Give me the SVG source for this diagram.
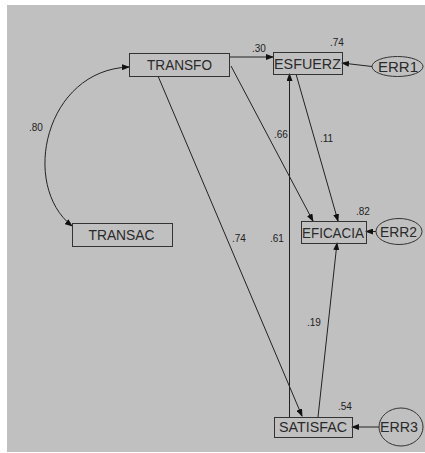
<svg xmlns="http://www.w3.org/2000/svg" width="425" height="453" viewBox="0 0 425 453">
<defs>
<marker id="ah" markerUnits="userSpaceOnUse" markerWidth="8" markerHeight="6" refX="7" refY="3" orient="auto-start-reverse" viewBox="0 0 8 6">
<path d="M0,0 L8,3 L0,6 z" fill="#111"/>
</marker>
<style>
.box{fill:none;stroke:#333;stroke-width:1}
.lbl{font-family:"Liberation Sans",Arial,sans-serif;font-size:14px;fill:#2a2a2a;text-anchor:middle}
.num{font-family:"Liberation Sans",Arial,sans-serif;font-size:10px;fill:#222}
.ln{fill:none;stroke:#222;stroke-width:1;marker-end:url(#ah)}
</style>
</defs>
<rect x="0" y="0" width="425" height="453" fill="#fff"/>
<rect x="7" y="5" width="418" height="447" fill="#c0c0c0"/>
<g id="connectors">
<path class="ln" d="M229,57 L273,57"/>
<path class="ln" d="M372,66.5 L342,63"/>
<path class="ln" d="M129,67 C45,70 20,185 72,226" marker-start="url(#ah)"/>
<path class="ln" d="M158,76 L302,416"/>
<path class="ln" d="M231,66 L313,221"/>
<path class="ln" d="M296,74 L338,221"/>
<path class="ln" d="M289.5,417 L289.5,74"/>
<path class="ln" d="M318,417 L337,243"/>
<path class="ln" d="M376,231.5 L366,231.5"/>
<path class="ln" d="M379,427 L352,427"/>
<text class="num" x="252" y="52">.30</text>
<text class="num" x="29" y="131">.80</text>
<text class="num" x="274" y="138">.66</text>
<text class="num" x="320" y="142">.11</text>
<text class="num" x="232" y="242">.74</text>
<text class="num" x="270" y="242">.61</text>
<text class="num" x="307" y="326">.19</text>
</g>
<g id="TRANSFO">
<rect class="box" x="129.5" y="53.5" width="100" height="23"/>
<text class="lbl" x="179.5" y="69.5" textLength="65" lengthAdjust="spacingAndGlyphs">TRANSFO</text>
</g>
<g id="ESFUERZ">
<rect class="box" x="273.5" y="52.5" width="69" height="22"/>
<text class="lbl" x="307.5" y="69" textLength="67" lengthAdjust="spacingAndGlyphs">ESFUERZ</text>
<text class="num" x="330" y="46">.74</text>
</g>
<g id="ERR1">
<ellipse class="box" cx="397.5" cy="66.5" rx="25.5" ry="10"/>
<text class="lbl" x="398" y="71.5" textLength="40" lengthAdjust="spacingAndGlyphs">ERR1</text>
</g>
<g id="TRANSAC">
<rect class="box" x="72.5" y="223.5" width="100" height="23"/>
<text class="lbl" x="121.5" y="239.5" textLength="66" lengthAdjust="spacingAndGlyphs">TRANSAC</text>
</g>
<g id="EFICACIA">
<rect class="box" x="301.5" y="221.5" width="65" height="22"/>
<text class="lbl" x="333" y="237.5" textLength="62" lengthAdjust="spacingAndGlyphs">EFICACIA</text>
<text class="num" x="356" y="215">.82</text>
</g>
<g id="ERR2">
<ellipse class="box" cx="399" cy="231.5" rx="23" ry="13"/>
<text class="lbl" x="398.5" y="236.5" textLength="37" lengthAdjust="spacingAndGlyphs">ERR2</text>
</g>
<g id="SATISFAC">
<rect class="box" x="274.5" y="417.5" width="78" height="20"/>
<text class="lbl" x="313" y="432" textLength="68" lengthAdjust="spacingAndGlyphs">SATISFAC</text>
<text class="num" x="338" y="410">.54</text>
</g>
<g id="ERR3">
<ellipse class="box" cx="401" cy="427" rx="22" ry="19"/>
<text class="lbl" x="399" y="432" textLength="38" lengthAdjust="spacingAndGlyphs">ERR3</text>
</g>
</svg>
